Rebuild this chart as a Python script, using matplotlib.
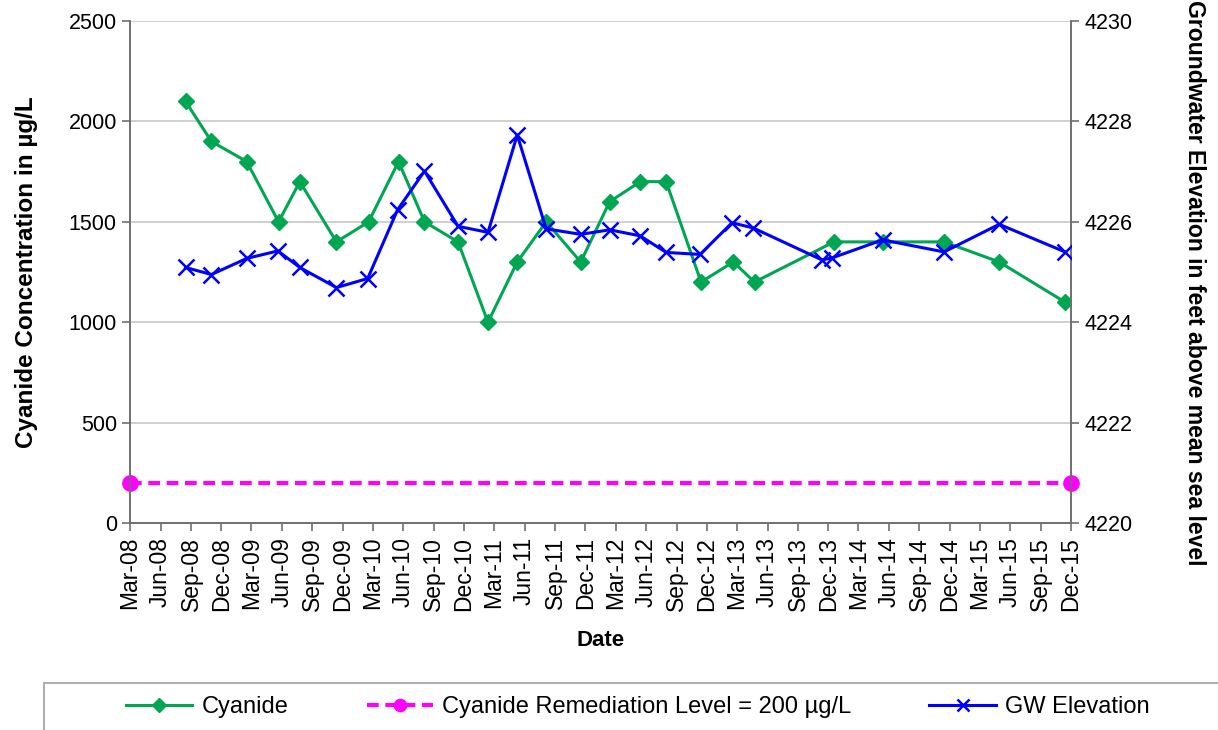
import numpy as np
import pandas as pd
import matplotlib
matplotlib.use("Agg")
import matplotlib.pyplot as plt
import matplotlib.dates as mdates
from matplotlib.patches import Rectangle

plt.rcParams['font.family'] = ['Liberation Sans', 'DejaVu Sans']

# cyanide results (ug/L)
cn_dates = pd.to_datetime([
    "2008-08-15", "2008-11-01", "2009-02-15", "2009-05-22", "2009-07-25",
    "2009-11-12", "2010-02-17", "2010-05-18", "2010-08-04", "2010-11-13",
    "2011-02-11", "2011-05-10", "2011-08-05", "2011-11-17", "2012-02-12",
    "2012-05-14", "2012-07-31", "2012-11-13", "2013-02-18", "2013-04-23",
    "2013-12-18", "2014-05-13", "2014-11-14", "2015-04-29", "2015-11-13",
])
cn_vals = [2100, 1900, 1800, 1500, 1700, 1400, 1500, 1800, 1500, 1400,
           1000, 1300, 1500, 1300, 1600, 1700, 1700, 1200, 1300, 1200,
           1400, 1400, 1400, 1300, 1100]

# groundwater elevation (ft amsl)
gw_dates = pd.to_datetime([
    "2008-08-15", "2008-11-01", "2009-02-15", "2009-05-20", "2009-07-25",
    "2009-11-12", "2010-02-14", "2010-05-15", "2010-08-04", "2010-11-13",
    "2011-02-11", "2011-05-10", "2011-08-05", "2011-11-17", "2012-02-12",
    "2012-05-14", "2012-07-31", "2012-11-10", "2013-02-14", "2013-04-18",
    "2013-11-12", "2013-12-12", "2014-05-13", "2014-11-14", "2015-04-29",
    "2015-11-13",
])
gw_vals = [4225.09, 4224.95, 4225.27, 4225.42, 4225.09, 4224.69, 4224.87,
           4226.24, 4227.01, 4225.91, 4225.79, 4227.73, 4225.86, 4225.75,
           4225.84, 4225.72, 4225.39, 4225.35, 4225.98, 4225.88, 4225.24,
           4225.28, 4225.64, 4225.40, 4225.95, 4225.40]

# remediation level
rl_dates = pd.to_datetime(["2008-03-01", "2015-12-01"])
rl_vals = [200, 200]

green = "#00A651"
axis_col = "#707070"
grid_col = "#c8c8c8"

fig = plt.figure(figsize=(12.18, 7.3), dpi=100)
ax = fig.add_axes([130 / 1218, 1 - 523 / 730, 941 / 1218, 502 / 730])
ax2 = ax.twinx()

ax.set_xlim(rl_dates[0], rl_dates[1])
ax.set_ylim(0, 2500)
ax.set_yticks(np.arange(0, 2501, 500))
ax2.set_ylim(4220, 4230)
ax2.set_yticks(np.arange(4220, 4231, 2))

ax.yaxis.grid(True, color=grid_col, lw=1.2)
ax.set_axisbelow(True)

ln_cn, = ax.plot(cn_dates, cn_vals, color=green, lw=2.2, marker="D",
                 ms=8.5, mec=green, mfc=green, label="Cyanide", zorder=3)
ln_rl, = ax.plot(rl_dates, rl_vals, color="#FF00FF", lw=3, ls=(0, (2.8, 1.6)),
                 marker="o", ms=11, clip_on=False,
                 label="Cyanide Remediation Level = 200 µg/L", zorder=3)
ln_gw, = ax2.plot(gw_dates, gw_vals, color="#0000FF", lw=2.2, marker="x",
                  ms=11, mew=1.8, label="GW Elevation", zorder=3)

ax.xaxis.set_major_locator(mdates.MonthLocator(bymonth=[3, 6, 9, 12], bymonthday=1))
ax.xaxis.set_major_formatter(mdates.DateFormatter("%b-%y"))

for a in (ax, ax2):
    for s in a.spines.values():
        s.set_color(axis_col)
        s.set_linewidth(1.2)
    a.spines["top"].set_visible(False)
    a.tick_params(colors=axis_col, labelcolor="black", labelsize=15.5, length=6, width=1.2)
ax.tick_params(axis="x", pad=4, labelsize=16.5, labelrotation=90)

ax.set_xlabel("Date", fontsize=16, fontweight="bold", labelpad=14)
ax.set_ylabel("Cyanide Concentration in µg/L", fontsize=17.5, fontweight="bold", labelpad=22)
fig.text(1195 / 1218, 1 - 283 / 730,
         "Groundwater Elevation in feet above mean sea level",
         rotation=270, ha="center", va="center", fontsize=16.6, fontweight="bold")

# legend strip along the bottom
fig.patches.append(Rectangle((44 / 1218, -0.1), 1.0, 0.1 + (730 - 683) / 730,
                             transform=fig.transFigure, fill=False,
                             edgecolor="#b0b0b0", lw=1.5))
fig.legend([ln_cn, ln_rl, ln_gw],
           [ln_cn.get_label(), ln_rl.get_label(), ln_gw.get_label()],
           loc="center", bbox_to_anchor=(638 / 1218, 1 - 707 / 730),
           ncol=3, frameon=False, fontsize=17, handlelength=2.8,
           handletextpad=0.4, columnspacing=3.3, markerscale=0.8)

fig.savefig("out.png", dpi=100)
